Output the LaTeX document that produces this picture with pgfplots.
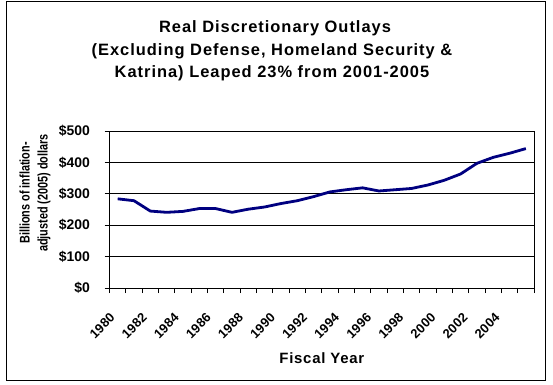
\documentclass[border=0pt]{standalone}
\usepackage{pgfplots}
\pgfplotsset{compat=1.18}
\usepackage{fontspec}
\setmainfont{Liberation Sans}
\newfontfamily\titlefont[LetterSpace=6]{Liberation Sans}
\newfontfamily\xlabfont[LetterSpace=5]{Liberation Sans}
\newfontfamily\ylabfont[FakeStretch=0.78]{Liberation Sans}
\definecolor{navyline}{RGB}{0,0,128}
\pgfplotstableread{
year value
1980 284
1981 278
1982 245
1983 241
1984 244
1985 253
1986 253
1987 241
1988 251
1989 258
1990 269
1991 278
1992 291
1993 306
1994 313
1995 319
1996 309
1997 313
1998 317
1999 328
2000 343
2001 363
2002 397
2003 416
2004 429
2005 444
}\outlays
\begin{document}
\begin{tikzpicture}[x=1bp,y=1bp]
\path (0,0) rectangle (553,384);
\draw[line width=1bp] (6,4) rectangle (545,382);
\node[anchor=base,font=\titlefont\bfseries\fontsize{16.5}{16.5}\selectfont] at (275,352) {Real Discretionary Outlays};
\node[anchor=base,font=\titlefont\bfseries\fontsize{16.5}{16.5}\selectfont] at (272,329) {(Excluding Defense, Homeland Security \&};
\node[anchor=base,font=\titlefont\bfseries\fontsize{16.5}{16.5}\selectfont] at (272,307) {Katrina) Leaped 23\%\ from 2001-2005};
\node[anchor=base,rotate=90,font=\ylabfont\bfseries\fontsize{14}{14}\selectfont] at (29.5,191) {Billions of inflation-};
\node[anchor=base,rotate=90,font=\ylabfont\bfseries\fontsize{14}{14}\selectfont] at (47.5,191) {adjusted (2005) dollars};
\node[anchor=base,font=\xlabfont\bfseries\fontsize{15}{15}\selectfont] at (321.8,21) {Fiscal Year};
\begin{axis}[
  at={(109.5bp,96bp)}, anchor=south west,
  scale only axis, width=424.5bp, height=157bp,
  xmin=1979.5, xmax=2005.5, ymin=0, ymax=500,
  ytick={0,100,200,300,400,500},
  yticklabels={\$0,\$100,\$200,\$300,\$400,\$500},
  yticklabel style={anchor=east, inner sep=0pt, xshift=-14.5bp, font=\bfseries\fontsize{14}{14}\selectfont},
  xtick={1979.745,1981.71,1983.675,1985.64,1987.605,1989.57,1991.535,1993.5,1995.465,1997.43,1999.395,2001.36,2003.325},
  xticklabels={1980,1982,1984,1986,1988,1990,1992,1994,1996,1998,2000,2002,2004},
  xticklabel style={inner sep=0pt, yshift=-22.5bp, xshift=-1bp, rotate=45, anchor=east, font=\bfseries\fontsize{13}{13}\selectfont},
  minor xtick={1979.5,1980.5,...,2005.5},
  major x tick style={draw=none},
  tick align=outside, major tick length=5bp, minor tick length=5bp,
  xtick pos=bottom, ytick pos=left,
  ymajorgrids, grid style={black, line width=1bp},
  axis line style={line width=1bp},
  every tick/.style={black, line width=1bp},
  clip=false,
]
\addplot[navyline, line width=2.8bp, line join=round, mark=none] table[x=year, y=value] {\outlays};
\end{axis}
\end{tikzpicture}
\end{document}
